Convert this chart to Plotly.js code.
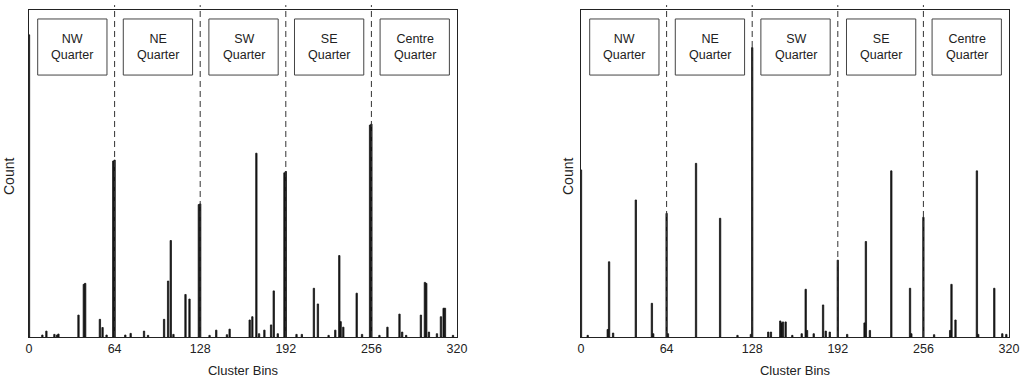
<!DOCTYPE html>
<html>
<head>
<meta charset="utf-8">
<script src="https://cdn.plot.ly/plotly-3.0.1.min.js"></script>
<style>html,body{margin:0;padding:0;background:#fff;}#chart{width:1021px;height:381px;}</style>
</head>
<body>
<div id="chart"></div>
<script>
// ---- data ----
const quarterNames = ["NW", "NE", "SW", "SE", "Centre"];
const quarterBounds = [0, 64, 128, 192, 256, 320];
const xTickVals = [0, 64, 128, 192, 256, 320];

const leftBins = [0,10,13,19,21,22,37,41,42,53,55,58,63,64,72,76,86,89,101,104,106,108,117,120,127,128,135,140,148,150,165,167,170,172,176,181,183,186,191,192,200,204,213,216,224,229,232,233,235,245,249,255,256,262,268,277,279,282,293,296,297,299,305,308,310,311,317];
const leftCounts = [92.4,0.6,1.8,0.8,0.6,0.9,6.7,16.1,16.4,5.4,2.9,0.6,53.8,54.1,0.6,1.1,1.8,0.5,5.4,17.1,29.5,0.8,13.0,11.6,40.5,40.7,0.5,2.1,0.7,2.4,5.2,6.2,56.2,1.0,2.1,3.7,14.1,1.0,50.2,50.6,0.8,0.8,14.9,10.1,0.5,2.1,24.9,4.7,3.0,13.4,0.8,64.8,65.1,0.5,3.0,7.0,1.5,0.5,6.7,16.7,16.4,1.5,1.0,6.2,8.8,8.8,0.5];

const rightBins = [0,5,20,21,24,41,53,54,64,65,86,104,117,127,128,140,142,149,150,151,153,158,165,168,169,174,181,183,186,192,199,212,213,216,232,246,247,256,264,276,277,280,296,297,309,315,318];
const rightCounts = [51.1,0.5,2.3,23.0,1.2,41.9,10.3,1.0,37.8,1.0,53.1,36.3,0.5,0.8,88.5,1.5,1.5,4.9,4.3,4.6,4.6,0.5,1.0,14.6,2.0,1.0,9.8,1.8,1.5,23.5,0.8,4.3,29.2,2.0,50.8,14.9,1.0,36.6,0.7,2.0,16.1,5.2,50.8,0.8,14.9,1.0,0.8];

// ---- styling / layout ----
const FONT = "'Liberation Sans', Arial, sans-serif";
const barColor = "#151515";

const traces = [
  {type: "bar", x: leftBins, y: leftCounts, width: 1.0, marker: {color: barColor, line: {width: 0.8, color: barColor}}, xaxis: "x", yaxis: "y", showlegend: false, hoverinfo: "x+y"},
  {type: "bar", x: rightBins, y: rightCounts, width: 1.0, marker: {color: barColor, line: {width: 0.8, color: barColor}}, xaxis: "x2", yaxis: "y2", showlegend: false, hoverinfo: "x+y"}
];

function xAxis(domain, anchor) {
  return {
    domain: domain, anchor: anchor, range: [0, 320],
    tickvals: xTickVals, ticktext: xTickVals.map(String),
    ticks: "", showgrid: false, zeroline: false,
    showline: true, mirror: true, linecolor: "#222", linewidth: 1,
    tickfont: {family: FONT, size: 12.5, color: "#222"},
    title: {text: "Cluster Bins", font: {family: FONT, size: 13, color: "#222"}, standoff: 10},
    automargin: false, fixedrange: true
  };
}
function yAxis(anchor) {
  return {
    domain: [0.1155, 0.9738], anchor: anchor, range: [0, 100],
    showticklabels: false, ticks: "", showgrid: false, zeroline: false,
    showline: true, mirror: true, linecolor: "#222", linewidth: 1,
    automargin: false, fixedrange: true
  };
}

const shapes = [];
const annotations = [];
[["x", "y"], ["x2", "y2"]].forEach(([xa, ya]) => {
  for (let i = 1; i < quarterBounds.length - 1; i++) {
    shapes.push({type: "line", xref: xa, yref: ya + " domain", x0: quarterBounds[i], x1: quarterBounds[i], y0: 0, y1: 1.015,
      line: {color: "#333", width: 1, dash: "6px,4px"}, layer: "above"});
  }
  quarterNames.forEach((name, i) => {
    const s = quarterBounds[i];
    shapes.push({type: "rect", xref: xa, yref: ya + " domain", x0: s + 6.5, x1: s + 58.3, y0: 0.801, y1: 0.9725,
      line: {color: "#444", width: 1}, fillcolor: "rgba(255,255,255,0)", layer: "above"});
    annotations.push({xref: xa, yref: ya + " domain", x: s + 32.4, y: 0.887, text: name + "<br>Quarter", showarrow: false,
      font: {family: FONT, size: 12.5, color: "#222"}, align: "center", xanchor: "center", yanchor: "middle"});
  });
});
annotations.push({xref: "paper", yref: "paper", x: 9 / 1021, y: 1 - 177 / 381, text: "Count", textangle: -90, showarrow: false,
  font: {family: FONT, size: 14, color: "#222"}, xanchor: "center", yanchor: "middle"});
annotations.push({xref: "paper", yref: "paper", x: 568 / 1021, y: 1 - 177 / 381, text: "Count", textangle: -90, showarrow: false,
  font: {family: FONT, size: 14, color: "#222"}, xanchor: "center", yanchor: "middle"});

const layout = {
  width: 1021, height: 381,
  margin: {l: 0, r: 0, t: 0, b: 0},
  paper_bgcolor: "#fff", plot_bgcolor: "#fff",
  bargap: 0,
  xaxis: xAxis([29 / 1021, 457 / 1021], "y"),
  yaxis: yAxis("x"),
  xaxis2: xAxis([581 / 1021, 1009 / 1021], "y2"),
  yaxis2: yAxis("x2"),
  shapes: shapes,
  annotations: annotations,
  font: {family: FONT}
};

Plotly.newPlot("chart", traces, layout, {displayModeBar: false, staticPlot: true});
</script>
</body>
</html>
